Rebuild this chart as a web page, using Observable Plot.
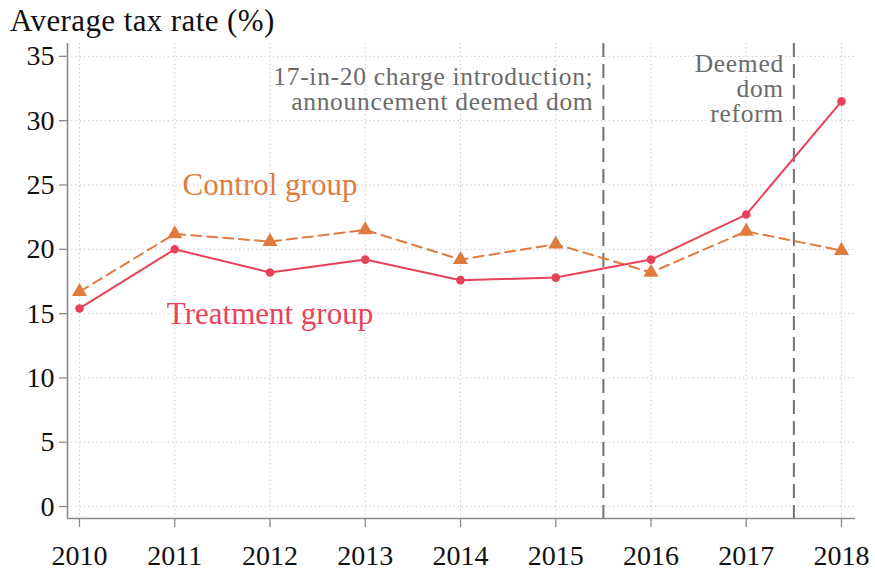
<!DOCTYPE html>
<html>
<head>
<meta charset="utf-8">
<script src="https://cdn.jsdelivr.net/npm/d3@7"></script>
<script src="https://cdn.jsdelivr.net/npm/@observablehq/plot@0.6"></script>
<style>
  html, body { margin: 0; padding: 0; background: #fff; }
  #wrap { position: relative; width: 875px; height: 571px; font-family: "Liberation Serif", serif; }
  #title { position: absolute; left: 10px; top: 5px; font-size: 31px; letter-spacing: 0.4px; line-height: 1; color: #111; white-space: nowrap; }
  #chart svg text { font-family: "Liberation Serif", serif; }
</style>
</head>
<body>
<div id="wrap">
  <div id="chart"></div>
  <div id="title">Average tax rate (%)</div>
</div>
<script>
const years = [2010, 2011, 2012, 2013, 2014, 2015, 2016, 2017, 2018];
const treatment = [15.4, 20.0, 18.2, 19.2, 17.6, 17.8, 19.2, 22.7, 31.5];
const control = [16.7, 21.2, 20.6, 21.5, 19.2, 20.4, 18.2, 21.4, 19.9];
const yTicks = [0, 5, 10, 15, 20, 25, 30, 35];
const xTicks = years;
const events = [2015.5, 2017.5];
const eventLabels = ["17-in-20 charge introduction;\nannouncement deemed dom", "Deemed\ndom\nreform"];
const eventLabelY = [32.45, 32.45];
const seriesNames = ["Control group", "Treatment group"];
const seriesLabelX = [2012, 2012];
const seriesLabelY = [25, 15];

const C_TREAT = "#e8425a";
const C_CTRL = "#e07b3f";
const FONT = "'Liberation Serif', serif";

const tData = years.map((y, i) => ({year: y, v: treatment[i]}));
const cData = years.map((y, i) => ({year: y, v: control[i]}));
const evData = events.map((e, i) => ({x: e, y: eventLabelY[i], text: eventLabels[i]}));
const sData = seriesNames.map((n, i) => ({x: seriesLabelX[i], y: seriesLabelY[i], text: n, color: i === 0 ? C_CTRL : C_TREAT}));

const xDom = [2009.874, 2018.147];
const yDom = [-0.93, 36.0];

const chart = Plot.plot({
  width: 875,
  height: 571,
  marginLeft: 67,
  marginRight: 20,
  marginTop: 43,
  marginBottom: 53,
  style: {fontFamily: FONT, background: "#fff", color: "#111"},
  x: {domain: xDom},
  y: {domain: yDom},
  marks: [
    Plot.ruleY(yTicks, {stroke: "#c4c4c4", strokeDasharray: "1.2,3", strokeWidth: 1}),
    Plot.ruleX(xTicks, {stroke: "#c4c4c4", strokeDasharray: "1.2,3", strokeWidth: 1}),
    Plot.ruleX([xDom[0]], {stroke: "#8a8a8a", strokeWidth: 1.6}),
    Plot.ruleY([yDom[0]], {stroke: "#8a8a8a", strokeWidth: 1.6}),
    Plot.ruleX(events, {stroke: "#707070", strokeWidth: 2, strokeDasharray: "14,7"}),
    Plot.axisY(yTicks, {tickSize: 8, tickPadding: 5, fontSize: 28, fontFamily: FONT, stroke: "#8a8a8a", fill: "#111", label: null, strokeWidth: 1.3}),
    Plot.axisX(xTicks, {tickSize: 9, tickPadding: 18, fontSize: 28, fontFamily: FONT, stroke: "#8a8a8a", fill: "#111", label: null, tickFormat: d => String(d), strokeWidth: 1.3}),
    Plot.line(cData, {x: "year", y: "v", stroke: C_CTRL, strokeWidth: 2, strokeDasharray: "10,6"}),
    Plot.dot(cData, {x: "year", y: "v", symbol: "triangle", r: 5.6, fill: C_CTRL, stroke: "none"}),
    Plot.line(tData, {x: "year", y: "v", stroke: C_TREAT, strokeWidth: 2}),
    Plot.dot(tData, {x: "year", y: "v", symbol: "circle", r: 4.3, fill: C_TREAT, stroke: "none"}),
    Plot.text(evData, {x: "x", y: "y", text: "text", textAnchor: "end", dx: -10, fontSize: 25.5, fontFamily: FONT, lineHeight: 0.98, fill: "#6b6b6b"}),
    Plot.text(sData, {x: "x", y: "y", text: "text", fill: "color", fontSize: 31, fontFamily: FONT})
  ]
});
document.getElementById("chart").appendChild(chart);
const textGroups = chart.querySelectorAll('g[aria-label="text"]');
if (textGroups.length) textGroups[0].setAttribute("letter-spacing", "0.7");
</script>
</body>
</html>
